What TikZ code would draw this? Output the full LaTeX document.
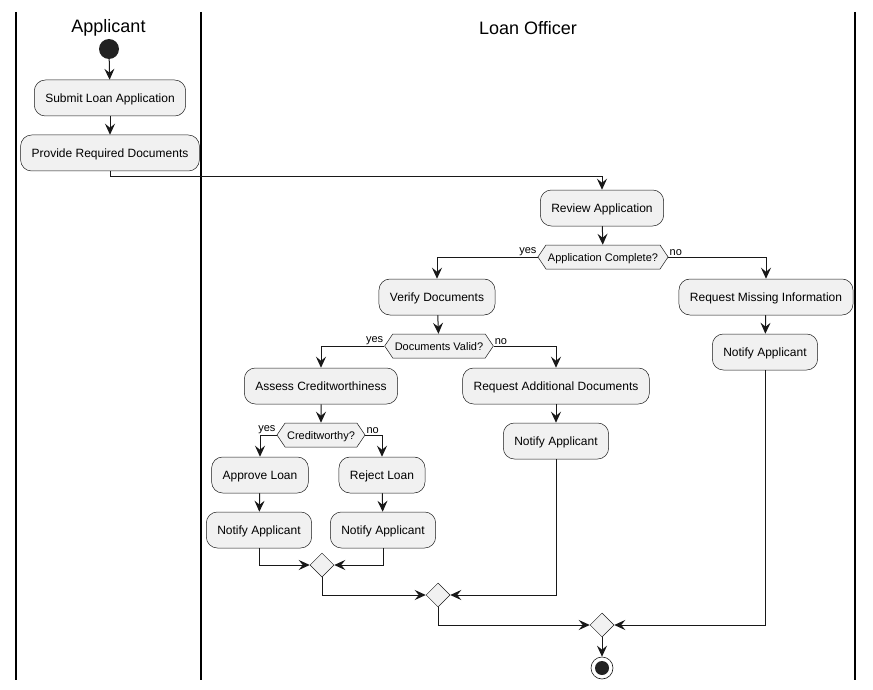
\documentclass[tikz,border=0pt]{standalone}
\usepackage{fontspec}
\setmainfont{Liberation Sans}
\usetikzlibrary{arrows.meta,shapes.geometric,shapes.symbols}
\definecolor{boxfill}{HTML}{F1F1F1}
\definecolor{ink}{HTML}{181818}
\definecolor{dot}{HTML}{222222}
\begin{document}
\begin{tikzpicture}[x=1pt,y=-1pt,
  act/.style={draw=ink, line width=0.5pt, fill=boxfill, rounded corners=11pt,
    minimum height=36pt, inner xsep=11pt, text height=8.6pt, text depth=0pt,
    font=\fontsize{12}{14}\selectfont},
  cond/.style={shape=signal, signal to=east and west, signal pointer angle=112,
    draw=ink, line width=0.5pt, fill=boxfill, minimum height=24pt,
    inner xsep=2pt, inner ysep=0pt, text height=8pt, text depth=0pt,
    font=\fontsize{11}{13}\selectfont},
  merge/.style={diamond, draw=ink, line width=0.5pt, fill=boxfill,
    minimum size=24pt, inner sep=0pt},
  flow/.style={draw=ink, line width=1pt, -{Stealth[length=11pt,width=10pt,inset=4pt]}},
  lbl/.style={font=\fontsize{11}{13}\selectfont, inner sep=1pt},
  lane/.style={line width=1.2pt, draw=black},
  title/.style={font=\fontsize{18}{21}\selectfont}]
\useasboundingbox (0,0) rectangle (873,690);

% swimlanes
\draw[lane] (16,12) -- (16,680);
\draw[lane] (201,12) -- (201,680);
\draw[lane] (855,12) -- (855,680);
\node[title] (tapp) at (108.5,28) {Applicant};
\node[title] (tlo) at (528,28) {Loan Officer};

% applicant lane
\node[circle, fill=dot, minimum size=20pt, inner sep=0pt] (start) at (109,49) {};
\node[act] (sub) at (110,98) {Submit Loan Application};
\node[act] (prov) at (110,153) {Provide Required Documents};

% loan officer lane
\node[act] (rev) at (602,208) {Review Application};
\node[cond] (ac) at (603,257) {Application Complete?};
\node[act] (vd) at (437,297) {Verify Documents};
\node[act] (rmi) at (766,297) {Request Missing Information};
\node[act] (na1) at (765,352) {Notify Applicant};
\node[cond] (dv) at (439,346) {Documents Valid?};
\node[act] (acw) at (321,386) {Assess Creditworthiness};
\node[act] (rad) at (556,386) {Request Additional Documents};
\node[act] (na2) at (556,441) {Notify Applicant};
\node[cond] (cw) at (321,435) {Creditworthy?};
\node[act] (apl) at (260,475) {Approve Loan};
\node[act] (rjl) at (382,475) {Reject Loan};
\node[act] (na3) at (259,530) {Notify Applicant};
\node[act] (na4) at (383,530) {Notify Applicant};
\node[merge] (m1) at (322,565) {};
\node[merge] (m2) at (438,595) {};
\node[merge] (m3) at (602,625) {};
\node[circle, draw=ink, line width=0.6pt, fill=white, minimum size=22pt, inner sep=0pt] (stop) at (602,668) {};
\fill[dot] (stop.center) circle (7pt);

% flow
\draw[flow] (start) -- (sub);
\draw[flow] (sub) -- (prov);
\draw[flow] (prov.south) -- ++(0,5) -| (rev.north);
\draw[flow] (rev) -- (ac);
\draw[flow] (ac.west) -| (vd.north);
\draw[flow] (ac.east) -| (rmi.north);
\node[lbl, anchor=south east] (acy) at (ac.west) {yes};
\node[lbl, anchor=south west] (acn) at (ac.east) {no};
\draw[flow] (rmi) -- (na1);
\draw[flow] (vd) -- (dv);
\draw[flow] (dv.west) -| (acw.north);
\draw[flow] (dv.east) -| (rad.north);
\node[lbl, anchor=south east] (dvy) at (dv.west) {yes};
\node[lbl, anchor=south west] (dvn) at (dv.east) {no};
\draw[flow] (rad) -- (na2);
\draw[flow] (acw) -- (cw);
\draw[flow] (cw.west) -| (apl.north);
\draw[flow] (cw.east) -| (rjl.north);
\node[lbl, anchor=south east] (cwy) at (cw.west) {yes};
\node[lbl, anchor=south west] (cwn) at (cw.east) {no};
\draw[flow] (apl) -- (na3);
\draw[flow] (rjl) -- (na4);
\draw[flow] (na3.south) |- (m1.west);
\draw[flow] (na4.south) |- (m1.east);
\draw[flow] (m1.south) |- (m2.west);
\draw[flow] (na2.south) |- (m2.east);
\draw[flow] (m2.south) |- (m3.west);
\draw[flow] (na1.south) |- (m3.east);
\draw[flow] (m3) -- (stop);
\end{tikzpicture}
\end{document}
